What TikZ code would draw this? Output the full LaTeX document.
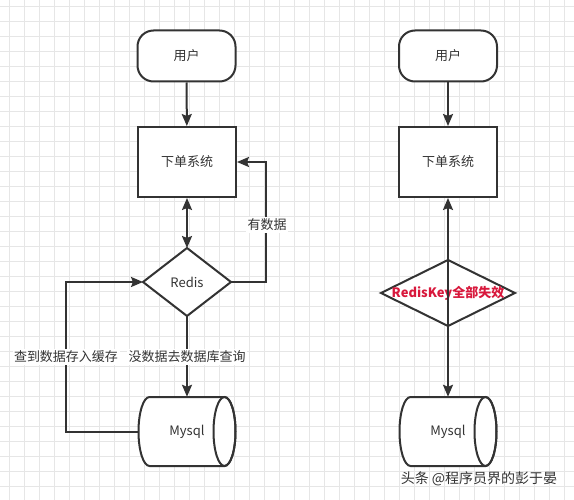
\documentclass[tikz,border=0pt]{standalone}
\usepackage{fontspec}
\setmainfont{Noto Sans CJK SC}
\usetikzlibrary{arrows.meta}
\definecolor{ln}{HTML}{333333}
\definecolor{gridc}{HTML}{E6E6E6}
\definecolor{redt}{HTML}{D8183C}
\newcommand{\cylbody}[1]{%
  \draw[shp] (#1+37.5,397) -- (#1-37.5,397)
    .. controls (#1-43.57,397) and (#1-48.5,412.45) .. (#1-48.5,431.5)
    .. controls (#1-48.5,450.55) and (#1-43.57,466) .. (#1-37.5,466)
    -- (#1+37.5,466)
    .. controls (#1+43.57,466) and (#1+48.5,450.55) .. (#1+48.5,431.5)
    .. controls (#1+48.5,412.45) and (#1+43.57,397) .. cycle;
  \draw[ln, line width=2pt] (#1+37.5,431.5) ellipse [x radius=11, y radius=34.5];}
\begin{document}
\begin{tikzpicture}[x=1pt,y=-1pt,
  every node/.style={font=\fontsize{13}{15}\selectfont, text=ln},
  tip/.tip={Stealth[length=12pt,width=10pt,inset=2pt]},
  conn/.style={draw=ln, line width=2pt, -tip},
  shp/.style={draw=ln, line width=2pt, fill=white},
  term/.style={shp, rounded corners=16pt, minimum width=98pt, minimum height=51pt},
  procbox/.style={shp, minimum width=98pt, minimum height=70pt},
  cyl/.style={minimum width=98pt, minimum height=69pt},
  lbl/.style={fill=white, inner sep=1.5pt}]
\useasboundingbox (0,0) rectangle (574,500);
\fill[white] (0,0) rectangle (574,500);
\foreach \x in {9,24,...,574} \draw[gridc, line width=0.8pt] (\x,0) -- (\x,500);
\foreach \y in {6.5,21.5,...,500} \draw[gridc, line width=0.8pt] (0,\y) -- (574,\y);

% ---------- left ----------
\node[term] (u1) at (186.5,56) {用户};
\node[procbox] (s1) at (187,162) {下单系统};
\coordinate (r1w) at (143,282);
\coordinate (r1n) at (187,248);
\coordinate (r1e) at (231,282);
\coordinate (r1s) at (187,316);
\draw[shp, line join=miter] (r1w) -- (r1n) -- (r1e) -- (r1s) -- cycle;
\node (r1) at (187,282) {Redis};
\cylbody{187}
\node[cyl] (m1) at (187,431.5) {Mysql};

\draw[conn] (u1) -- (s1);
\draw[conn, tip-tip] (s1) -- (r1n);
\draw[conn] (r1e) -- ++(35,0) |- (s1.east);
\node[lbl] (l1) at (267,225) {有数据};
\draw[conn] (r1s) -- (m1.north);
\node[lbl] (l2) at (187,357) {没数据去数据库查询};
\draw[conn] (m1.west) -- ++(-71.5,0) |- (r1w);
\node[lbl] (l3) at (66,357) {查到数据存入缓存};

% ---------- right ----------
\node[term] (u2) at (448,56) {用户};
\node[procbox] (s2) at (448,162) {下单系统};
\coordinate (d2w) at (381,293);
\coordinate (d2n) at (448,260);
\coordinate (d2e) at (515,293);
\coordinate (d2s) at (448,326);
\draw[shp, line join=miter] (d2w) -- (d2n) -- (d2e) -- (d2s) -- cycle;
\node[text=redt, font=\fontsize{13}{15}\selectfont\bfseries] (d2) at (448,293) {RedisKey全部失效};
\cylbody{448}
\node[cyl] (m2) at (448,431.5) {Mysql};

\draw[conn] (u2) -- (s2);
\draw[conn] (d2.center) -- (s2.south);
\draw[conn] (d2.center) -- (m2.north);

\node[font=\fontsize{14}{16}\selectfont] (wm) at (479,479) {头条 @程序员界的彭于晏};
\end{tikzpicture}
\end{document}
